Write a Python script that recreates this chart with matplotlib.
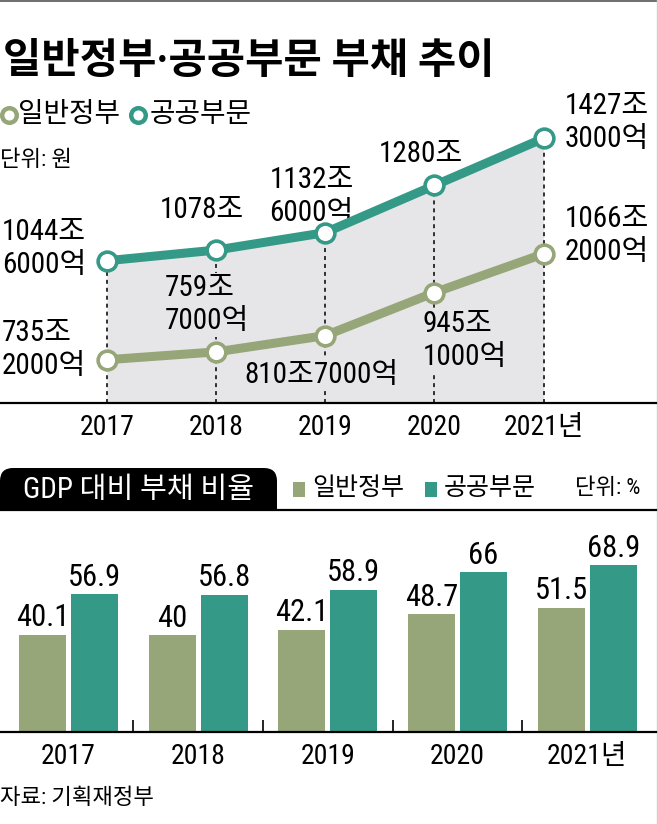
import matplotlib
matplotlib.use('Agg')
import matplotlib.pyplot as plt
from matplotlib.patches import FancyBboxPatch, Rectangle
import numpy as np

# ---------------- data ----------------
years = ['2017', '2018', '2019', '2020', '2021년']
series_names = ['일반정부', '공공부문']
public_debt = [1044.6, 1078.0, 1132.6, 1280.0, 1427.3]      # 조원
general_debt = [735.2, 759.7, 810.7, 945.1, 1066.2]         # 조원
public_labels = ['1044조\n6000억', '1078조', '1132조\n6000억', '1280조', '1427조\n3000억']
general_labels = ['735조\n2000억', '759조\n7000억', '810조7000억', '945조\n1000억', '1066조\n2000억']
gdp_general = [40.1, 40, 42.1, 48.7, 51.5]
gdp_public = [56.9, 56.8, 58.9, 66, 68.9]
gdp_general_labels = ['40.1', '40', '42.1', '48.7', '51.5']
gdp_public_labels = ['56.9', '56.8', '58.9', '66', '68.9']

# ---------------- style ----------------
W, H = 658, 824
OLIVE = '#97a679'
TEAL = '#349a87'
FILL = '#e6e6e8'
KR = 'Noto Sans CJK KR'
FAM = ['Roboto Condensed', KR, 'DejaVu Sans']
plt.rcParams['font.family'] = FAM

fig = plt.figure(figsize=(W / 100, H / 100), dpi=100)


def px_axes(l, t, r, b, **kw):
    return fig.add_axes([l / W, 1 - b / H, (r - l) / W, (b - t) / H], **kw)


# overlay axes in pixel coordinates (for decorations)
ov = fig.add_axes([0, 0, 1, 1], zorder=-5)
ov.set_xlim(0, W)
ov.set_ylim(H, 0)
ov.axis('off')

# frame hints
ov.plot([0, W], [1, 1], color='#555555', lw=1.2)
ov.plot([656.5, 656.5], [0, H], color='#d0d0d0', lw=1)

# title
ov.text(3, 61, '일반정부·공공부문 부채 추이', family=FAM, fontsize=30,
        fontweight='bold', va='center', ha='left')

# top legend
for cx, tx, col, name in [(9, 18, OLIVE, series_names[0]), (137.5, 150, TEAL, series_names[1])]:
    ov.plot([cx], [115], marker='o', ms=10.5, mfc='white', mec=col, mew=3.2)
    ov.text(tx, 114, name, family=[KR], fontsize=20, va='center', ha='left')
ov.text(0, 160, '단위: 원', fontsize=16, va='center', ha='left')

# ---------------- line chart ----------------
ax1 = px_axes(0, 100, 656, 403)
ax1.patch.set_visible(False)
x = np.arange(len(years))
ax1.set_xlim(-0.98, 5.03)
ax1.set_ylim(600, 1547)
for s in ['top', 'right', 'left']:
    ax1.spines[s].set_visible(False)
ax1.spines['bottom'].set_linewidth(1.6)
ax1.spines['bottom'].set_color('black')
ax1.set_yticks([])
ax1.set_xticks(x)
ax1.set_xticklabels(years, fontsize=20)
ax1.tick_params(axis='x', length=0, pad=8)

ax1.fill_between(x, public_debt, 600, color=FILL, lw=0, zorder=0)
ax1.vlines(x, 600, public_debt, color='#222222', lw=1.3,
           linestyles=(0, (2.2, 2.2)), zorder=1)

ax1.plot(x, general_debt, color=OLIVE, lw=6.5, marker='o', ms=13.5,
         mfc='white', mec=OLIVE, mew=2.6, zorder=4, solid_capstyle='round')
ax1.plot(x, public_debt, color=TEAL, lw=6.5, marker='o', ms=13.5,
         mfc='white', mec=TEAL, mew=2.6, zorder=5, solid_capstyle='round')

pub_off = [(-105, 12), (-56, 40), (-56, 36), (-56, 31), (21, 16)]
gen_off = [(-105, 10), (-51, 47), (-81, -39), (-12, -48), (21, 18)]
gen_box = [False, True, True, True, False]

for i, (v, lab) in enumerate(zip(public_debt, public_labels)):
    ax1.annotate(lab, (x[i], v), xytext=pub_off[i], textcoords='offset pixels',
                 ha='left', va='center', fontsize=21, linespacing=1.22, zorder=3)
for i, (v, lab) in enumerate(zip(general_debt, general_labels)):
    kw = {}
    if gen_box[i]:
        kw['bbox'] = dict(boxstyle='square,pad=0.05', fc=FILL, ec='none')
    ax1.annotate(lab, (x[i], v), xytext=gen_off[i], textcoords='offset pixels',
                 ha='left', va='center', fontsize=21, linespacing=1.22, zorder=3, **kw)

# ---------------- bottom header ----------------
ov.add_patch(FancyBboxPatch((0, 468), 277, 42, boxstyle='round,pad=0,rounding_size=13',
                            fc='black', ec='none'))
ov.add_patch(Rectangle((0, 490), 277, 20, fc='black', ec='none'))
ov.text(23, 490, 'GDP 대비 부채 비율', color='white', fontsize=21, va='center', ha='left')
ov.plot([0, 656], [510, 510], color='black', lw=1.6)

for sx, tx, col, name in [(293, 312, OLIVE, series_names[0]), (425, 444, TEAL, series_names[1])]:
    ov.add_patch(Rectangle((sx, 482), 12, 15, fc=col, ec='none'))
    ov.text(tx, 488, name, family=[KR], fontsize=18, va='center', ha='left')
ov.text(575, 488, '단위: %', fontsize=16, va='center', ha='left')

# ---------------- bar chart ----------------
ax2 = px_axes(0, 520, 656, 732)
ax2.patch.set_visible(False)
ax2.set_xlim(-0.528, 4.53)
ax2.set_ylim(0, (732 - 520) / 2.417)
bw = 0.362
off = 0.2
b1 = ax2.bar(x - off, gdp_general, bw, color=OLIVE, zorder=2)
b2 = ax2.bar(x + off, gdp_public, bw, color=TEAL, zorder=2)
ax2.bar_label(b1, labels=gdp_general_labels, fontsize=22, padding=2)
ax2.bar_label(b2, labels=gdp_public_labels, fontsize=22, padding=2)
for s in ['top', 'right', 'left']:
    ax2.spines[s].set_visible(False)
ax2.spines['bottom'].set_linewidth(1.6)
ax2.spines['bottom'].set_color('black')
ax2.set_yticks([])
ax2.set_xticks(x)
ax2.set_xticklabels(years, fontsize=20)
ax2.set_xticks(x[:-1] + 0.5, minor=True)
ax2.tick_params(axis='x', which='major', length=0, pad=8)
ax2.tick_params(axis='x', which='minor', direction='in', length=8.5, width=1.2, color='black')

ov.text(0, 799, '자료: 기획재정부', fontsize=16, va='center', ha='left')

fig.savefig('out.png', dpi=100)
